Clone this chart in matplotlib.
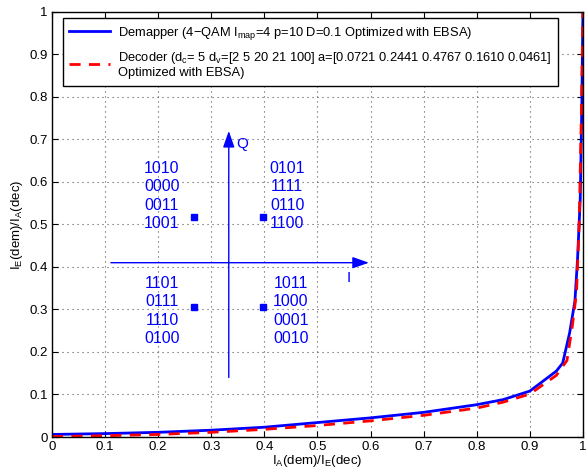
import numpy as np
import matplotlib
matplotlib.use('Agg')
import matplotlib.pyplot as plt

plt.rcParams['font.family'] = ['Liberation Sans', 'DejaVu Sans']
plt.rcParams['mathtext.fontset'] = 'custom'
plt.rcParams['mathtext.rm'] = 'Liberation Sans'
plt.rcParams['mathtext.it'] = 'Liberation Sans'
plt.rcParams['mathtext.default'] = 'regular'

# EXIT curves
x_dem = [0, 0.1, 0.2, 0.3, 0.4, 0.5, 0.6, 0.7, 0.8, 0.85, 0.9, 0.95, 0.962,
         0.975, 0.985, 0.99, 0.995, 0.998, 1.0]
y_dem = [0.006, 0.008, 0.011, 0.016, 0.023, 0.034, 0.045, 0.058, 0.076, 0.088,
         0.108, 0.155, 0.174, 0.245, 0.32, 0.42, 0.56, 0.78, 1.0]
x_dec = [0, 0.1, 0.2, 0.3, 0.4, 0.5, 0.6, 0.7, 0.8, 0.85, 0.9, 0.95, 0.97,
         0.98, 0.988, 0.993, 0.997, 1.0]
y_dec = [0.001, 0.003, 0.006, 0.011, 0.018, 0.027, 0.038, 0.051, 0.068, 0.082,
         0.101, 0.145, 0.18, 0.26, 0.34, 0.5, 0.75, 1.0]

lab_dem = r'Demapper (4$-$QAM I$_{map}$=4 p=10 D=0.1 Optimized with EBSA)'
lab_dec = ('Decoder (d$_c$= 5 d$_v$=[2 5 20 21 100] a=[0.0721 0.2441 0.4767 0.1610 0.0461]\n'
           'Optimized with EBSA)')

# constellation labels (4-QAM, bit labels per point)
pts_x = [0.267, 0.397, 0.267, 0.397]
pts_y = [0.518, 0.518, 0.306, 0.306]
labels = [['1010', '0000', '0011', '1001'],
          ['0101', '1111', '0110', '1100'],
          ['1101', '0111', '1110', '0100'],
          ['1011', '1000', '0001', '0010']]
lab_x = [0.207, 0.443, 0.207, 0.45]
lab_y = [0.567, 0.567, 0.296, 0.296]

fig = plt.figure(figsize=(5.86, 4.75), dpi=100)
ax = fig.add_axes([0.0887, 0.08, 0.906, 0.895])

ax.plot(x_dem, y_dem, color='blue', lw=2, label=lab_dem)
ax.plot(x_dec, y_dec, color='red', lw=2, ls=(0, (4, 3)), label=lab_dec)

ax.set_xlim(0, 1)
ax.set_ylim(0, 1)
ax.set_xticks(np.arange(0, 1.01, 0.1))
ax.set_yticks(np.arange(0, 1.01, 0.1))
ax.set_xticklabels(['0', '0.1', '0.2', '0.3', '0.4', '0.5', '0.6', '0.7', '0.8', '0.9', '1'])
ax.set_yticklabels(['0', '0.1', '0.2', '0.3', '0.4', '0.5', '0.6', '0.7', '0.8', '0.9', '1'])
ax.tick_params(direction='in', top=True, right=True, labelsize=9.5, length=4, pad=3)
ax.grid(True, ls=(0, (1, 3.5)), color='#555555', lw=0.8)
for s in ax.spines.values():
    s.set_linewidth(1)

ax.set_xlabel('I$_A$(dem)/I$_E$(dec)', fontsize=9.5, labelpad=0)
ax.set_ylabel('I$_E$(dem)/I$_A$(dec)', fontsize=9.5, labelpad=3)

# I/Q axes
ax.annotate('', xy=(0.597, 0.41), xytext=(0.111, 0.41),
            arrowprops=dict(arrowstyle='-|>,head_length=1.0,head_width=0.35',
                            color='blue', lw=1, shrinkA=0, shrinkB=0))
ax.annotate('', xy=(0.333, 0.72), xytext=(0.333, 0.14),
            arrowprops=dict(arrowstyle='-|>,head_length=1.0,head_width=0.35',
                            color='blue', lw=1, shrinkA=0, shrinkB=0))
ax.text(0.348, 0.69, 'Q', color='blue', fontsize=11, va='center')
ax.text(0.555, 0.375, 'I', color='blue', fontsize=11, va='center')

ax.plot(pts_x, pts_y, 's', color='blue', ms=5)
for lx, ly, lab in zip(lab_x, lab_y, labels):
    ax.text(lx, ly, '\n'.join(lab), color='blue', fontsize=11.5,
            ha='center', va='center', linespacing=1.28)

leg = ax.legend(loc='upper left', bbox_to_anchor=(0.008, 1.0), fontsize=9.3,
                fancybox=False, edgecolor='black', framealpha=1,
                handlelength=3.2, handletextpad=0.6, borderpad=0.5,
                labelspacing=0.6)
leg.get_frame().set_linewidth(1)

fig.savefig('out.png', dpi=100)
